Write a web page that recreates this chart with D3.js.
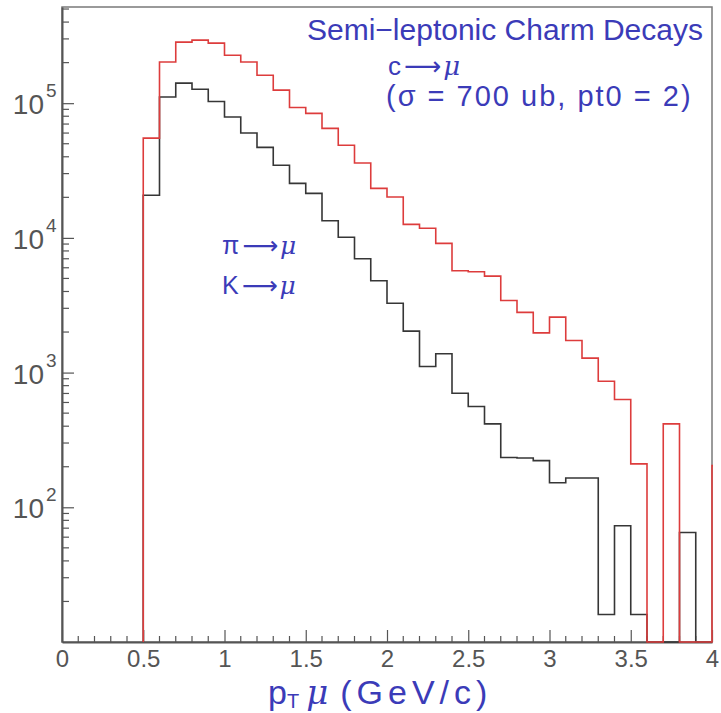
<!DOCTYPE html>
<html><head><meta charset="utf-8">
<script src="https://cdn.jsdelivr.net/npm/d3@7"></script>
<style>body{margin:0;background:#fff}svg{display:block}</style>
</head><body>
<svg id="c" width="721" height="713"></svg>
<script>
// bin lower edges (GeV/c), width 0.1
const binWidth = 0.1;
const redStart = 0.5;   // c -> mu
const redValues = [5.5e4, 2.02e5, 2.84e5, 2.94e5, 2.79e5, 2.27e5, 2.02e5, 1.61e5, 1.25e5, 9.3e4,
  8.4e4, 6.5e4, 4.87e4, 3.6e4, 2.33e4, 2.01e4, 1.26e4, 1.18e4, 9.1e3, 5.7e3,
  5.6e3, 5.2e3, 3.43e3, 2.8e3, 1.97e3, 2.58e3, 1.73e3, 1.28e3, 862, 632,
  210, 0, 416, 0, 0, 204];
const blackStart = 0.5; // pi,K -> mu
const blackValues = [2.07e4, 1.11e5, 1.41e5, 1.27e5, 1.03e5, 7.9e4, 6.0e4, 4.7e4, 3.46e4, 2.54e4,
  2.14e4, 1.34e4, 1.01e4, 7.0e3, 4.8e3, 3.27e3, 2.03e3, 1.11e3, 1.38e3, 702,
  560, 416, 234, 232, 222, 152, 165, 165, 16, 73,
  16, 0, 0, 65, 0];
const xTickLabels = ["0","0.5","1","1.5","2","2.5","3","3.5","4"];
const yDecades = [2, 3, 4, 5];
const xDomain = [0, 4];
const yDomain = [10, Math.pow(10, 5.714)];

const svg = d3.select("#c");
const L = 62, R = 712, T = 7, B = 642;
const x = d3.scaleLinear().domain(xDomain).range([L, R]);
const y = d3.scaleLog().domain(yDomain).range([B, T]).clamp(true);

// frame
svg.append("rect").attr("x", L).attr("y", T).attr("width", R - L).attr("height", B - T)
  .attr("fill", "none").attr("stroke", "#7a7a7a").attr("stroke-width", 1.5);

// x axis (ticks inside)
const gx = svg.append("g").attr("transform", `translate(0,${B})`);
const xMajor = xTickLabels.map(Number);
const xAxis = d3.axisBottom(x).tickValues(xMajor).tickSizeInner(-12).tickSizeOuter(0)
  .tickFormat((d, i) => xTickLabels[i]).tickPadding(16);
gx.call(xAxis);
const xMinor = d3.range(0, 40).map(i => i / 10).filter(v => Math.abs(v * 2 - Math.round(v * 2)) > 1e-6);
gx.selectAll("line.minor").data(xMinor).enter().append("line").attr("class", "minor")
  .attr("x1", d => x(d)).attr("x2", d => x(d)).attr("y1", 0).attr("y2", -6)
  .attr("stroke", "#555").attr("stroke-width", 1.2);
gx.select(".domain").attr("stroke", "#555").attr("stroke-width", 2);
gx.selectAll(".tick line").attr("stroke", "#555").attr("stroke-width", 1.2);
gx.selectAll(".tick text").attr("font-family", "Liberation Sans, Arial, sans-serif")
  .attr("font-size", 24).attr("fill", "#555").attr("dy", "0.35em").attr("y", 17);

// y axis (ticks inside)
const gy = svg.append("g").attr("transform", `translate(${L},0)`);
const yMajorVals = yDecades.map(e => Math.pow(10, e));
const yAxis = d3.axisLeft(y).tickValues(yMajorVals).tickSizeInner(-12).tickSizeOuter(0).tickFormat("");
gy.call(yAxis);
gy.select(".domain").attr("stroke", "#555").attr("stroke-width", 2);
gy.selectAll(".tick line").attr("stroke", "#555").attr("stroke-width", 1.2);
const yMinor = [];
for (let e = 1; e <= 5; e++) for (let m = 2; m <= 9; m++) {
  const v = m * Math.pow(10, e);
  if (v <= yDomain[1]) yMinor.push(v);
}
gy.selectAll("line.minor").data(yMinor).enter().append("line").attr("class", "minor")
  .attr("x1", 0).attr("x2", 7).attr("y1", d => y(d)).attr("y2", d => y(d))
  .attr("stroke", "#555").attr("stroke-width", 1.2);
const ylab = svg.append("g").attr("font-family", "Liberation Sans, Arial, sans-serif").attr("fill", "#555");
yDecades.forEach(e => {
  const yy = y(Math.pow(10, e));
  ylab.append("text").attr("x", 44).attr("y", yy + 11).attr("text-anchor", "end")
    .attr("font-size", 28).text("10");
  ylab.append("text").attr("x", 46).attr("y", yy - 6).attr("font-size", 19).text(String(e));
});

// histograms
svg.append("clipPath").attr("id", "clip").append("rect")
  .attr("x", L - 2).attr("y", T).attr("width", R - L + 3).attr("height", B - T + 2);
function stepPoints(start, vals) {
  const pts = [[start, yDomain[0]]];
  vals.forEach((v, i) => {
    const a = start + i * binWidth, b = start + (i + 1) * binWidth;
    const vv = v > 0 ? v : yDomain[0];
    pts.push([a, vv], [b, vv]);
  });
  pts.push([start + vals.length * binWidth, yDomain[0]]);
  return pts;
}
const line = d3.line().x(d => x(d[0])).y(d => y(d[1]));
const hg = svg.append("g").attr("clip-path", "url(#clip)").attr("fill", "none");
hg.append("path").attr("d", line(stepPoints(blackStart, blackValues)))
  .attr("stroke", "#363636").attr("stroke-width", 1.6);
hg.append("path").attr("d", line(stepPoints(redStart, redValues)))
  .attr("stroke", "#dd3c3c").attr("stroke-width", 1.6);

// annotations
const blue = "#3b3bb8";
const ff = "Liberation Sans, Arial, sans-serif";
svg.append("text").attr("x", 703).attr("y", 40).attr("text-anchor", "end")
  .attr("font-family", ff).attr("font-size", 30).attr("fill", blue).text("Semi\u2212leptonic Charm Decays");
function arrowLabel(xp, yp, lhs, size) {
  const t = svg.append("text").attr("x", xp).attr("y", yp).attr("font-family", ff)
    .attr("font-size", size).attr("fill", blue);
  t.append("tspan").text(lhs);
  t.append("tspan").attr("font-family", "DejaVu Sans").attr("dx", 3).text("\u27F6");
  t.append("tspan").attr("font-style", "italic").attr("font-family", "DejaVu Serif").attr("dx", 2).text("\u03BC");
}
arrowLabel(388, 75, "c", 26);
svg.append("text").attr("x", 386).attr("y", 106).attr("font-family", ff).attr("font-size", 29)
  .attr("fill", blue).attr("letter-spacing", 2).text("(\u03C3 = 700 ub, pt0 = 2)");
arrowLabel(222, 254, "\u03C0", 25);
arrowLabel(222, 294, "K", 25);

// axis title
const tt = svg.append("text").attr("x", 268).attr("y", 704).attr("font-family", ff)
  .attr("font-size", 34).attr("fill", blue);
tt.append("tspan").text("p");
tt.append("tspan").attr("font-size", 20).attr("dy", 4).text("T");
tt.append("tspan").attr("dy", -4).attr("dx", 7).attr("font-style", "italic").attr("font-family", "DejaVu Serif").text("\u03BC");
tt.append("tspan").attr("dx", 12).attr("letter-spacing", 5).text("(GeV/c)");
</script>
</body></html>
